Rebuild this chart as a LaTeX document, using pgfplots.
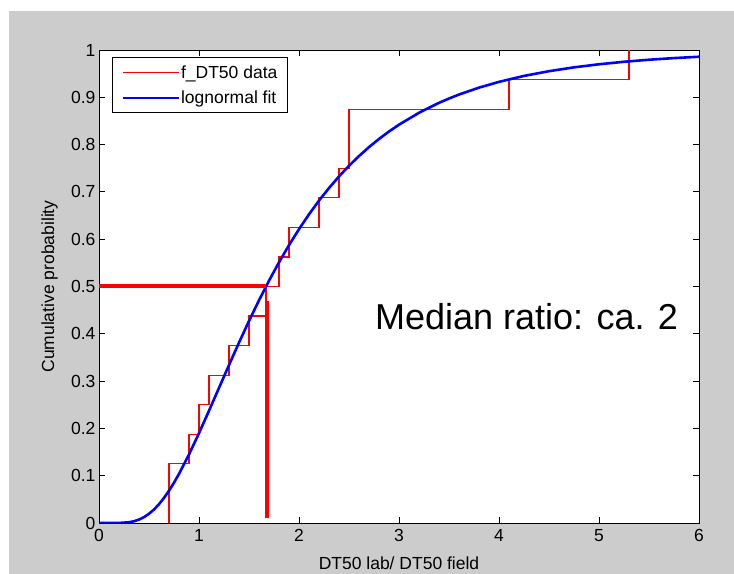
\documentclass[border=0pt]{standalone}
\usepackage{pgfplots}
\pgfplotsset{compat=1.18}
\usepackage{fontspec}
\setmainfont{Liberation Sans}
\definecolor{figgray}{RGB}{204,204,204}
\definecolor{mred}{RGB}{255,0,0}
\definecolor{mblue}{RGB}{0,0,255}
\newcommand{\smallfont}{\fontsize{17.5bp}{20bp}\selectfont}
\newcommand{\bigfont}{\fontsize{36bp}{40bp}\selectfont}

% empirical cdf (stairs) of the ratio data
\pgfplotstableread{
x y
0.7 0
0.7 0.125
0.9 0.1875
1.0 0.25
1.1 0.3125
1.3 0.375
1.5 0.4375
1.67 0.5
1.8 0.5625
1.9 0.625
2.2 0.6875
2.4 0.75
2.5 0.875
4.1 0.9375
5.3 1.0
}\ecdfdata

% lognormal fit
\pgfplotstableread{
x y
0 0
0.1 0
0.2 0.0001
0.3 0.0016
0.35 0.0037
0.4 0.0072
0.45 0.0124
0.5 0.0195
0.55 0.0286
0.6 0.0398
0.65 0.0531
0.7 0.0683
0.75 0.0852
0.8 0.1038
0.9 0.1449
1.0 0.1899
1.1 0.2373
1.2 0.2857
1.3 0.3340
1.4 0.3814
1.5 0.4271
1.6 0.4708
1.7 0.5122
1.8 0.5511
1.9 0.5875
2.0 0.6212
2.1 0.6526
2.2 0.6816
2.3 0.7082
2.4 0.7327
2.5 0.7552
2.6 0.7758
2.7 0.7947
2.8 0.8119
2.9 0.8277
3.0 0.8421
3.2 0.8673
3.4 0.8883
3.5 0.8974
3.6 0.9058
3.8 0.9204
4.0 0.9326
4.25 0.9452
4.5 0.9552
4.75 0.9633
5.0 0.9698
5.25 0.9751
5.5 0.9794
5.75 0.9829
6.0 0.9857
}\fitdata

\begin{document}
\begin{tikzpicture}
\fill[white] (0bp,0bp) rectangle (734bp,574bp);
\fill[figgray] (9bp,0bp) rectangle (734bp,563bp);
\useasboundingbox (0bp,0bp) rectangle (734bp,574bp);
\begin{axis}[
  at={(99bp,51bp)}, anchor=south west,
  scale only axis, width=600bp, height=473bp,
  xmin=0, xmax=6, ymin=0, ymax=1,
  axis background/.style={fill=white},
  axis line style={black, line width=0.9bp},
  xtick={0,1,2,3,4,5,6},
  ytick={0,0.1,0.2,0.3,0.4,0.5,0.6,0.7,0.8,0.9,1},
  tick align=inside, tick pos=both,
  major tick length=6bp,
  every tick/.style={black, line width=0.9bp},
  /pgf/number format/assume math mode=true,
  /pgf/number format/fixed,
  tick label style={font=\smallfont},
  xticklabel style={yshift=-3bp},
  xlabel={DT50 lab/ DT50 field},
  ylabel={Cumulative probability},
  xlabel style={font=\smallfont, at={(axis description cs:0.5,0)}, anchor=base, yshift=-46bp},
  ylabel style={font=\smallfont, at={(axis description cs:0,0.5)}, anchor=base, yshift=45bp},
  legend cell align=left,
  legend style={at={(0.0217,0.985)}, anchor=north west, draw=black,
    line width=0.9bp, fill=white, font=\smallfont,
    inner xsep=9bp, inner ysep=7bp, row sep=9bp,
    nodes={inner sep=1bp},
    /tikz/every even column/.append style={column sep=5bp}},
]
\addlegendimage{legend image code/.code={\draw[mred, line width=1.1bp] (0bp,0bp) -- (56bp,0bp);}}
\addlegendentry{f\_DT50 data}
\addlegendimage{legend image code/.code={\draw[mblue, line width=2.6bp] (0bp,0bp) -- (56bp,0bp);}}
\addlegendentry{lognormal fit}
\addplot[forget plot, const plot, mred, line width=1.2bp] table {\ecdfdata};
\addplot[forget plot, mblue, line width=2.6bp] table {\fitdata};
% median read-off lines
\addplot[forget plot, mred, line width=4bp] coordinates {(0,0.5) (1.67,0.5)};
\addplot[forget plot, mred, line width=3.6bp] coordinates {(1.68,0.01) (1.68,0.47)};
\node[anchor=base west, inner sep=0pt, font=\bigfont] at (axis cs:2.76,0.410) {Median ratio: ca. 2};
\end{axis}
\end{tikzpicture}
\end{document}
